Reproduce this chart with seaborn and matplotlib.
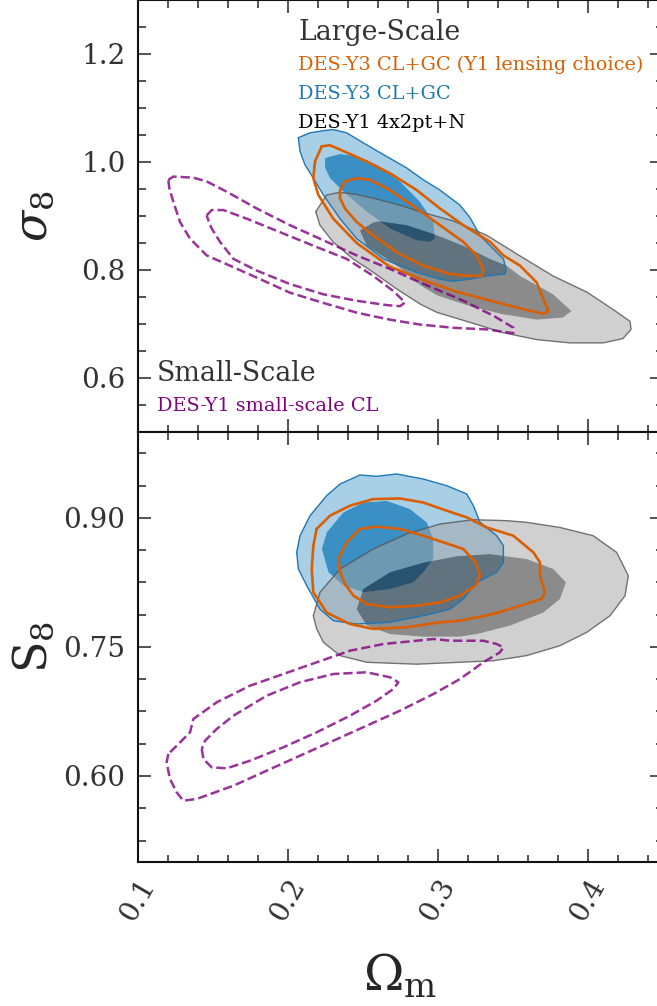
import numpy as np
import matplotlib
matplotlib.use("Agg")
import matplotlib.pyplot as plt
import seaborn as sns
from matplotlib.path import Path
from matplotlib.patches import PathPatch
from matplotlib.ticker import AutoMinorLocator

sns.set_style("ticks")
plt.rcParams['font.family'] = ['DejaVu Serif']
plt.rcParams['mathtext.fontset'] = 'dejavuserif'

# ---------------- data: contour outlines ----------------
# Top panel (Omega_m, sigma_8)
y1_sig_out_om = [0.2185, 0.2258, 0.2347, 0.2458, 0.2567, 0.2747, 0.2880, 0.3100, 0.3327, 0.3547, 0.3767, 0.3993,
                 0.4167, 0.4280, 0.4287, 0.4233, 0.4100, 0.3880, 0.3660, 0.3433, 0.3213, 0.2993, 0.2880, 0.2727,
                 0.2567, 0.2433, 0.2300, 0.2213]
y1_sig_out_s = [0.908, 0.939, 0.944, 0.940, 0.933, 0.920, 0.908, 0.891, 0.864, 0.826, 0.789, 0.759,
                0.727, 0.705, 0.690, 0.673, 0.665, 0.665, 0.671, 0.684, 0.703, 0.7215, 0.737, 0.7645,
                0.796, 0.8206, 0.852, 0.883]
y1_sig_in_om = [0.2480, 0.2569, 0.2613, 0.2790, 0.2967, 0.3167, 0.3347, 0.3458, 0.3547, 0.3767, 0.3890, 0.3833,
                0.3660, 0.3433, 0.3213, 0.2993, 0.2880, 0.2790, 0.2658, 0.2525]
y1_sig_in_s = [0.873, 0.888, 0.890, 0.883, 0.867, 0.845, 0.8206, 0.808, 0.789, 0.755, 0.724, 0.712,
               0.708, 0.718, 0.733, 0.753, 0.772, 0.795, 0.8206, 0.845]

y3_sig_out_om = [0.2069, 0.2147, 0.2236, 0.2302, 0.2391, 0.2502, 0.2636, 0.2791, 0.2902, 0.3013, 0.3147, 0.3213,
                 0.3280, 0.3369, 0.3436, 0.3455, 0.3447, 0.3325, 0.3213, 0.3100, 0.3013, 0.2858, 0.2636, 0.2458,
                 0.2347, 0.2236, 0.2169, 0.2113, 0.2080]
y3_sig_out_s = [1.045, 1.054, 1.058, 1.060, 1.054, 1.0355, 1.0137, 0.989, 0.967, 0.948, 0.920, 0.897,
                0.864, 0.839, 0.8206, 0.800, 0.7925, 0.789, 0.783, 0.779, 0.783, 0.7956, 0.8206, 0.858,
                0.895, 0.939, 0.970, 0.995, 1.020]
y3_sig_in_om = [0.2247, 0.2347, 0.2458, 0.2591, 0.2747, 0.2880, 0.2969, 0.2980, 0.2947, 0.2858, 0.2680, 0.2525,
                0.2369, 0.2280, 0.2247]
y3_sig_in_s = [1.0075, 1.015, 1.0106, 0.995, 0.964, 0.9265, 0.889, 0.858, 0.852, 0.855, 0.8766, 0.908,
               0.945, 0.970, 0.989]

lens_sig_out_om = [0.2225, 0.2280, 0.2347, 0.2525, 0.2680, 0.2858, 0.3013, 0.3169, 0.3347, 0.3436, 0.3547, 0.3658,
                   0.3702, 0.3736, 0.3702, 0.3547, 0.3325, 0.3110, 0.2925, 0.2680, 0.2458, 0.2302, 0.2202, 0.2169,
                   0.2180]
lens_sig_out_s = [1.029, 1.031, 1.023, 1.001, 0.979, 0.948, 0.914, 0.883, 0.852, 0.827, 0.808, 0.777,
                  0.746, 0.724, 0.719, 0.729, 0.745, 0.761, 0.779, 0.806, 0.850, 0.895, 0.939, 0.970,
                  1.001]
lens_sig_in_om = [0.2347, 0.2380, 0.2458, 0.2547, 0.2680, 0.2858, 0.3013, 0.3169, 0.3258, 0.3302, 0.3291, 0.3213,
                  0.3080, 0.2902, 0.2725, 0.2569, 0.2458, 0.2380, 0.2347]
lens_sig_in_s = [0.948, 0.964, 0.970, 0.967, 0.948, 0.914, 0.883, 0.852, 0.827, 0.802, 0.789, 0.789,
                 0.7925, 0.808, 0.833, 0.864, 0.889, 0.914, 0.933]

ss_sig_out_om = [0.1202, 0.1236, 0.1369, 0.1458, 0.1591, 0.1791, 0.2013, 0.2236, 0.2458, 0.2680, 0.2880, 0.3154,
                 0.3378, 0.3503, 0.3502, 0.3325, 0.3102, 0.2880, 0.2680, 0.2458, 0.2236, 0.2013, 0.1791, 0.1613,
                 0.1458, 0.1347, 0.1280, 0.1236, 0.1209]
ss_sig_out_s = [0.967, 0.973, 0.971, 0.964, 0.945, 0.914, 0.883, 0.855, 0.827, 0.802, 0.777, 0.745,
                0.714, 0.693, 0.683, 0.690, 0.693, 0.699, 0.708, 0.721, 0.739, 0.758, 0.786, 0.808,
                0.827, 0.858, 0.889, 0.926, 0.951]
ss_sig_in_om = [0.1458, 0.1491, 0.1569, 0.1725, 0.1947, 0.2169, 0.2391, 0.2569, 0.2702, 0.2780, 0.2747, 0.2658,
                0.2458, 0.2236, 0.2013, 0.1791, 0.1636, 0.1547, 0.1491, 0.1469]
ss_sig_in_s = [0.901, 0.911, 0.911, 0.895, 0.870, 0.845, 0.8206, 0.789, 0.761, 0.740, 0.733, 0.735,
               0.743, 0.755, 0.774, 0.799, 0.8206, 0.852, 0.877, 0.892]

# Bottom panel (Omega_m, S_8)
y1_s8_out_om = [0.2169, 0.2213, 0.2347, 0.2569, 0.2791, 0.3013, 0.3236, 0.3458, 0.3591, 0.3813, 0.4035, 0.4191,
                0.4269, 0.4247, 0.4147, 0.3991, 0.3813, 0.3591, 0.3369, 0.2858, 0.2525, 0.2347, 0.2236, 0.2191]
y1_s8_out_s = [0.7864, 0.8136, 0.8407, 0.864, 0.8814, 0.893, 0.898, 0.8969, 0.895, 0.889, 0.8794, 0.860,
               0.8329, 0.8097, 0.7864, 0.767, 0.7515, 0.740, 0.734, 0.730, 0.7322, 0.740, 0.7555, 0.771]
y1_s8_in_om = [0.2458, 0.2502, 0.2680, 0.2902, 0.3125, 0.3347, 0.3591, 0.3769, 0.3853, 0.3813, 0.3702, 0.3480,
               0.3258, 0.3147, 0.2902, 0.2680, 0.2525]
y1_s8_in_s = [0.794, 0.8174, 0.8369, 0.848, 0.8555, 0.858, 0.8523, 0.8407, 0.8252, 0.8058, 0.790, 0.7748,
              0.765, 0.762, 0.762, 0.765, 0.775]

y3_s8_out_om = [0.2058, 0.2080, 0.2147, 0.2258, 0.2347, 0.2480, 0.2591, 0.2725, 0.2902, 0.3058, 0.3191, 0.3236,
                0.3280, 0.3391, 0.3436, 0.3436, 0.3391, 0.3258, 0.3169, 0.3080, 0.2902, 0.2680, 0.2458, 0.2302,
                0.2213, 0.2125, 0.2069]
y3_s8_out_s = [0.860, 0.8794, 0.9027, 0.926, 0.9395, 0.950, 0.9485, 0.9512, 0.9453, 0.9376, 0.928, 0.9143,
               0.895, 0.8794, 0.8678, 0.848, 0.8369, 0.825, 0.8058, 0.794, 0.7864, 0.7787, 0.7767, 0.7806,
               0.794, 0.8213, 0.8407]
y3_s8_in_om = [0.2225, 0.2258, 0.2369, 0.2502, 0.2658, 0.2813, 0.2925, 0.2969, 0.2969, 0.2902, 0.2835, 0.2680,
               0.2502, 0.2369, 0.2269]
y3_s8_in_s = [0.864, 0.8834, 0.9066, 0.918, 0.920, 0.9105, 0.895, 0.8756, 0.8523, 0.8369, 0.825, 0.8174,
              0.8136, 0.8213, 0.8369]

lens_s8_out_om = [0.2191, 0.2280, 0.2413, 0.2569, 0.2747, 0.2902, 0.3058, 0.3191, 0.3325, 0.3502, 0.3636, 0.3680,
                  0.3680, 0.3713, 0.3691, 0.3547, 0.3369, 0.3147, 0.3013, 0.2791, 0.2569, 0.2413, 0.2258, 0.2169,
                  0.2158, 0.2169]
lens_s8_out_s = [0.8872, 0.9027, 0.9143, 0.922, 0.9227, 0.918, 0.9085, 0.9008, 0.889, 0.8794, 0.860, 0.8484,
                 0.8329, 0.8136, 0.8058, 0.798, 0.7884, 0.7806, 0.7787, 0.7729, 0.771, 0.7767, 0.790, 0.8136,
                 0.8407, 0.8678]
lens_s8_in_om = [0.2347, 0.2336, 0.2391, 0.2480, 0.2591, 0.2747, 0.2902, 0.3036, 0.3169, 0.3250, 0.3280, 0.3250,
                 0.3147, 0.3013, 0.2858, 0.2680, 0.2525, 0.2436, 0.2380]
lens_s8_in_s = [0.8369, 0.8523, 0.8717, 0.8872, 0.890, 0.8872, 0.8794, 0.8717, 0.864, 0.8484, 0.8329, 0.8213,
                0.8097, 0.8019, 0.798, 0.7962, 0.800, 0.8097, 0.8233]

ss_s8_out_om = [0.1202, 0.1191, 0.1213, 0.1258, 0.1302, 0.1391, 0.1636, 0.1858, 0.2080, 0.2302, 0.2525, 0.2747,
                0.2969, 0.3147, 0.3302, 0.3413, 0.3436, 0.3391, 0.3302, 0.3080, 0.2969, 0.2858, 0.2636, 0.2413,
                0.2191, 0.1969, 0.1747, 0.1525, 0.1369, 0.1347, 0.1258]
ss_s8_out_s = [0.6256, 0.616, 0.5965, 0.581, 0.5713, 0.5733, 0.5887, 0.6062, 0.6236, 0.641, 0.6585, 0.676,
               0.6953, 0.7128, 0.7322, 0.7438, 0.7496, 0.7535, 0.7573, 0.7573, 0.7593, 0.7573, 0.7535, 0.7457,
               0.7322, 0.7186, 0.705, 0.6857, 0.6663, 0.6508, 0.6352]
ss_s8_in_om = [0.1425, 0.1436, 0.1491, 0.1591, 0.1747, 0.1969, 0.2191, 0.2413, 0.2591, 0.2702, 0.2736, 0.2680,
               0.2525, 0.2302, 0.2080, 0.1858, 0.1636, 0.1525, 0.1447]
ss_s8_in_s = [0.6314, 0.6198, 0.6101, 0.6089, 0.6178, 0.6334, 0.6508, 0.6701, 0.6876, 0.7012, 0.709, 0.7148,
              0.7206, 0.7186, 0.709, 0.6934, 0.6701, 0.6547, 0.641]

labels = ["DES-Y3 CL+GC (Y1 lensing choice)", "DES-Y3 CL+GC", "DES-Y1 4x2pt+N", "DES-Y1 small-scale CL"]
x_ticks = [0.1, 0.2, 0.3, 0.4]
sig_ticks = [0.6, 0.8, 1.0, 1.2]
s8_ticks = [0.60, 0.75, 0.90]

# ---------------- styles ----------------
ORANGE = '#d95f02'
BLUE_EDGE = '#1f77b4'
BLUE_LIGHT = '#a8cfe6'
BLUE_MID = '#3a8fc5'
GRAY_RING = '#a3a3a3'
GRAY_IN = '#191919'
PURPLE = 'purple'


def closed(a):
    a = list(a)
    return a + a[:1]


def ring_path(xo, yo, xi, yi):
    outer = np.column_stack([closed(xo), closed(yo)])
    inner = np.column_stack([closed(xi[::-1]), closed(yi[::-1])])
    verts = np.vstack([outer, inner])
    codes = ([Path.MOVETO] + [Path.LINETO] * (len(outer) - 2) + [Path.CLOSEPOLY] +
             [Path.MOVETO] + [Path.LINETO] * (len(inner) - 2) + [Path.CLOSEPOLY])
    return Path(verts, codes)


def draw_panel(ax, y1o, y1i, y3o, y3i, lo, li, so, si):
    # DES-Y3 CL+GC filled (blue)
    ax.add_patch(PathPatch(ring_path(*y3o, *y3i), facecolor=BLUE_LIGHT, edgecolor='none', zorder=1))
    ax.fill(*y3i, color=BLUE_MID, lw=0, zorder=1)
    # DES-Y1 4x2pt+N filled (gray, translucent)
    ax.add_patch(PathPatch(ring_path(*y1o, *y1i), facecolor=GRAY_RING, edgecolor='none', alpha=0.5, zorder=2))
    ax.fill(*y1i, color=GRAY_IN, lw=0, alpha=0.5, zorder=2)
    sns.lineplot(x=closed(y1o[0]), y=closed(y1o[1]), sort=False, estimator=None, ax=ax,
                 color='#555555', lw=1.0, alpha=0.8, zorder=3)
    sns.lineplot(x=closed(y3o[0]), y=closed(y3o[1]), sort=False, estimator=None, ax=ax,
                 color=BLUE_EDGE, lw=1.0, zorder=3)
    # Y1 lensing choice (orange lines)
    for c in (lo, li):
        sns.lineplot(x=closed(c[0]), y=closed(c[1]), sort=False, estimator=None, ax=ax,
                     color=ORANGE, lw=1.9, zorder=4)
    # small scale (purple dashed)
    for c in (so, si):
        sns.lineplot(x=closed(c[0]), y=closed(c[1]), sort=False, estimator=None, ax=ax,
                     color=PURPLE, alpha=0.8, lw=1.8, linestyle='--', zorder=4)


fig = plt.figure(figsize=(6.57, 10.06), dpi=100)
W, H = 657.0, 1006.0
left = 138 / W
width = (663 - 138) / W
ax1 = fig.add_axes([left, (H - 432) / H, width, 432 / H])
ax2 = fig.add_axes([left, (H - 862) / H, width, 430 / H])

draw_panel(ax1, (y1_sig_out_om, y1_sig_out_s), (y1_sig_in_om, y1_sig_in_s),
           (y3_sig_out_om, y3_sig_out_s), (y3_sig_in_om, y3_sig_in_s),
           (lens_sig_out_om, lens_sig_out_s), (lens_sig_in_om, lens_sig_in_s),
           (ss_sig_out_om, ss_sig_out_s), (ss_sig_in_om, ss_sig_in_s))
draw_panel(ax2, (y1_s8_out_om, y1_s8_out_s), (y1_s8_in_om, y1_s8_in_s),
           (y3_s8_out_om, y3_s8_out_s), (y3_s8_in_om, y3_s8_in_s),
           (lens_s8_out_om, lens_s8_out_s), (lens_s8_in_om, lens_s8_in_s),
           (ss_s8_out_om, ss_s8_out_s), (ss_s8_in_om, ss_s8_in_s))

for ax in (ax1, ax2):
    ax.set_xlim(0.1, 0.45)
    ax.set_xticks(x_ticks)
    ax.xaxis.set_minor_locator(AutoMinorLocator(5))
    ax.tick_params(which='both', direction='in', top=True, right=True, colors='#222222',
                   labelsize=20, labelcolor='#333333')
    ax.tick_params(which='major', length=9.5, width=1.1, pad=9)
    ax.tick_params(which='minor', length=5.4, width=1.1)
    for s in ax.spines.values():
        s.set_linewidth(1.5)
        s.set_color('#111111')
    ax.set_xlabel('')
    ax.set_ylabel('')

ax1.set_ylim(0.5, 1.3)
ax1.set_yticks(sig_ticks)
ax1.yaxis.set_minor_locator(AutoMinorLocator(4))
ax1.tick_params(axis='x', labelbottom=False)

ax2.set_ylim(0.5, 1.0)
ax2.set_yticks(s8_ticks)
ax2.set_yticklabels([f"{v:.2f}" for v in s8_ticks])
ax2.yaxis.set_minor_locator(AutoMinorLocator(4))
ax2.set_xticklabels([f"{v:.1f}" for v in x_ticks], rotation=60, ha='center', va='top')

ax1.set_ylabel(r'$\sigma_8$', fontsize=33)
ax1.yaxis.set_label_coords(-0.155, 0.5)
ax2.set_ylabel(r'$\mathrm{S}_8$', fontsize=33)
ax2.yaxis.set_label_coords(-0.155, 0.5)
ax2.set_xlabel(r'$\Omega_{\rm m}$', fontsize=35)
ax2.xaxis.set_label_coords(0.5, -0.21)

# annotations (legend-like text)
tx = (298 - 138) / 525
ax1.text(tx, 1 - 40 / 432, "Large-Scale", transform=ax1.transAxes, fontsize=19.3, color='#333333', va='baseline')
ax1.text(tx, 1 - 70 / 432, labels[0], transform=ax1.transAxes, fontsize=13.9, color=ORANGE, va='baseline')
ax1.text(tx, 1 - 99 / 432, labels[1], transform=ax1.transAxes, fontsize=13.9, color=BLUE_EDGE, va='baseline')
ax1.text(tx, 1 - 128 / 432, labels[2], transform=ax1.transAxes, fontsize=13.9, color='black', va='baseline')
sx = (157 - 138) / 525
ax1.text(sx, 1 - 381 / 432, "Small-Scale", transform=ax1.transAxes, fontsize=19.3, color='#333333', va='baseline')
ax1.text(sx, 1 - 411 / 432, labels[3], transform=ax1.transAxes, fontsize=13.9, color=PURPLE, va='baseline')

fig.savefig('out.png', dpi=100)
